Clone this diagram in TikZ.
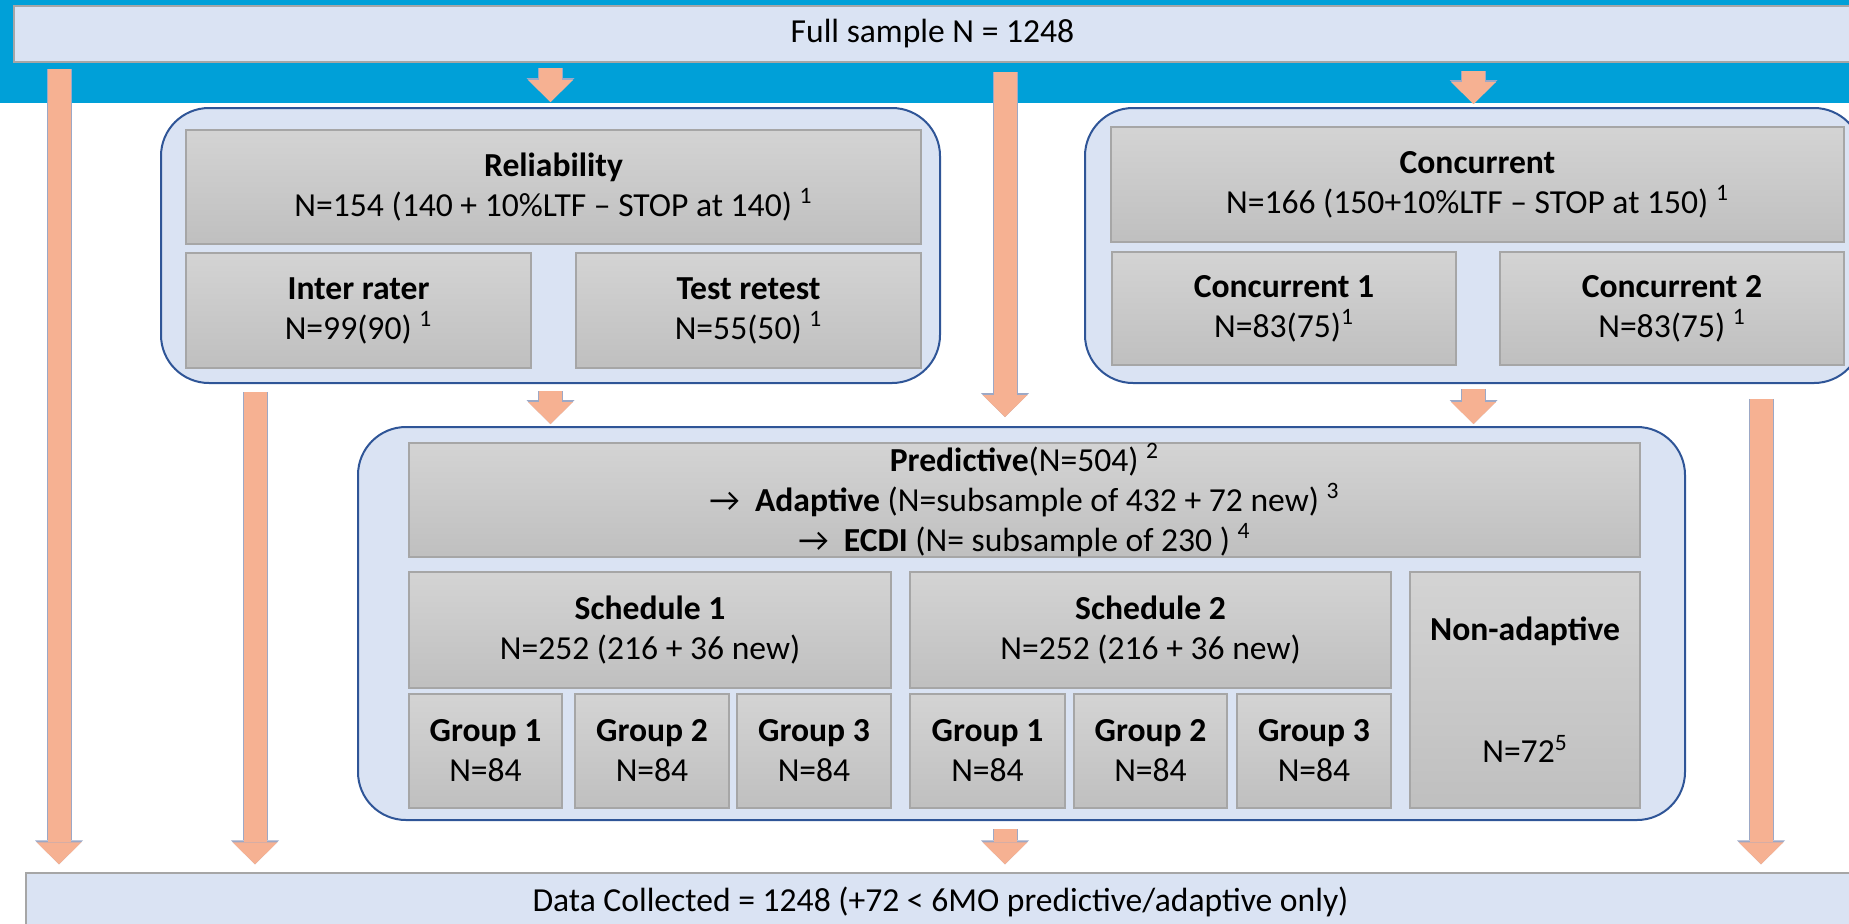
\documentclass[tikz,border=0pt]{standalone}
\usepackage{fontspec}
\setmainfont{Carlito}
\usetikzlibrary{arrows.meta}
\definecolor{band}{HTML}{00A0D8}
\definecolor{pale}{HTML}{DAE3F3}
\definecolor{navy}{HTML}{2F5597}
\definecolor{peach}{HTML}{F6B192}
\definecolor{peachline}{HTML}{9CA8C6}

\begin{document}
\begin{tikzpicture}[x=0.5pt,y=-0.5pt,
    every node/.style={font=\fontsize{16.8}{20}\selectfont, align=center, inner sep=0pt},
    sample/.style={draw=black!35, line width=0.75pt, fill=pale},
    group/.style={draw=navy, line width=1pt, fill=pale, rounded corners=24pt},
    cell/.style={draw=black!35, line width=0.6pt, top color=black!17, bottom color=black!25},
    flow/.style={preaction={draw=peachline, line width=12.5pt,
        -{Triangle[width=24pt,length=12pt,line width=0pt]}},
      draw=peach, line width=11.5pt,
      -{Triangle[width=22.5pt,length=11pt,line width=0pt]}}]
  \useasboundingbox (0,0) rectangle (1849,923);
  \fill[band] (0,0) rectangle (1849,103);

  \node[sample, minimum width=918.5pt, minimum height=28pt] (full) at (932.5,34) {Full sample N = 1248};
  \node[sample, minimum width=914.5pt, minimum height=28.5pt] (data) at (940.5,901.5)
    {Data Collected = 1248 (+72 < 6MO predictive/adaptive only)};

  % reliability block
  \node[group, minimum width=389.5pt, minimum height=137.5pt] (rel) at (550.5,245.5) {};
  \node[cell, minimum width=367.5pt, minimum height=57pt] (relhead) at (553.5,187)
    {\textbf{Reliability}\\N=154 (140 + 10\%LTF -- STOP at 140) \textsuperscript{1}};
  \node[cell, minimum width=172.5pt, minimum height=57.5pt] (inter) at (358.5,310.5)
    {\textbf{Inter rater}\\N=99(90) \textsuperscript{1}};
  \node[cell, minimum width=172.5pt, minimum height=57.5pt] (retest) at (748.5,310.5)
    {\textbf{Test retest}\\N=55(50) \textsuperscript{1}};

  % concurrent block
  \node[group, minimum width=388.5pt, minimum height=137.5pt] (con) at (1473.5,245.5) {};
  \node[cell, minimum width=366.5pt, minimum height=57.5pt] (conhead) at (1477.5,184.5)
    {\textbf{Concurrent}\\N=166 (150+10\%LTF -- STOP at 150) \textsuperscript{1}};
  \node[cell, minimum width=172pt, minimum height=56.5pt] (con1) at (1284,308.5)
    {\textbf{Concurrent 1}\\N=83(75)\textsuperscript{1}};
  \node[cell, minimum width=172pt, minimum height=56.5pt] (con2) at (1672,308.5)
    {\textbf{Concurrent 2}\\N=83(75) \textsuperscript{1}};

  % predictive block
  \node[group, minimum width=663.5pt, minimum height=196.5pt] (pred) at (1021.5,623.5) {};
  \node[cell, minimum width=615.5pt, minimum height=57pt] (predhead) at (1024.5,500)
    {\textbf{Predictive}(N=504) \textsuperscript{2}\\
     → \ \textbf{Adaptive} (N=subsample of 432 + 72 new) \textsuperscript{3}\\
     → \ \textbf{ECDI} (N= subsample of 230 ) \textsuperscript{4}};
  \node[cell, minimum width=241pt, minimum height=58pt] (sched1) at (650,630)
    {\textbf{Schedule 1}\\N=252 (216 + 36 new)};
  \node[cell, minimum width=240.5pt, minimum height=58pt] (sched2) at (1150.5,630)
    {\textbf{Schedule 2}\\N=252 (216 + 36 new)};
  \node[cell, minimum width=115pt, minimum height=118pt] (nonad) at (1525,690)
    {\textbf{Non-adaptive}\\[41pt]N=72\textsuperscript{5}};
  \node[cell, minimum width=76.5pt, minimum height=57pt] (s1g1) at (485.5,751) {\textbf{Group 1}\\N=84};
  \node[cell, minimum width=77pt, minimum height=57pt] (s1g2) at (652,751) {\textbf{Group 2}\\N=84};
  \node[cell, minimum width=77pt, minimum height=57pt] (s1g3) at (814,751) {\textbf{Group 3}\\N=84};
  \node[cell, minimum width=77.5pt, minimum height=57pt] (s2g1) at (987.5,751) {\textbf{Group 1}\\N=84};
  \node[cell, minimum width=76.5pt, minimum height=57pt] (s2g2) at (1150.5,751) {\textbf{Group 2}\\N=84};
  \node[cell, minimum width=77pt, minimum height=57pt] (s2g3) at (1314,751) {\textbf{Group 3}\\N=84};

  \coordinate (outer) at (59,0);
  \coordinate (inner) at (255,0);
  \coordinate (mid) at (1005,0);
  \coordinate (right) at (1761,0);

  \draw[flow, shorten <=3pt, shorten >=4pt] (outer |- full.south) -- (outer |- data.north);
  \draw[flow, shorten <=2.5pt, shorten >=2.5pt] (full.south -| rel.north) -- (rel.north);
  \draw[flow, shorten <=4.5pt, shorten >=4.5pt] (mid |- full.south) -- (mid |- pred.north);
  \draw[flow, shorten <=4pt, shorten >=1.5pt] (full.south -| con.north) -- (con.north);
  \draw[flow, shorten <=3.5pt, shorten >=1pt] (rel.south) -- (rel.south |- pred.north);
  \draw[flow, shorten <=2.5pt, shorten >=1pt] (con.south) -- (con.south |- pred.north);
  \draw[flow, shorten <=4pt, shorten >=4pt] (inner |- rel.south) -- (inner |- data.north);
  \draw[flow, shorten <=7.5pt, shorten >=4pt] (right |- con.south) -- (right |- data.north);
  \draw[flow, shorten <=4pt, shorten >=4pt] (mid |- pred.south) -- (mid |- data.north);
\end{tikzpicture}
\end{document}
